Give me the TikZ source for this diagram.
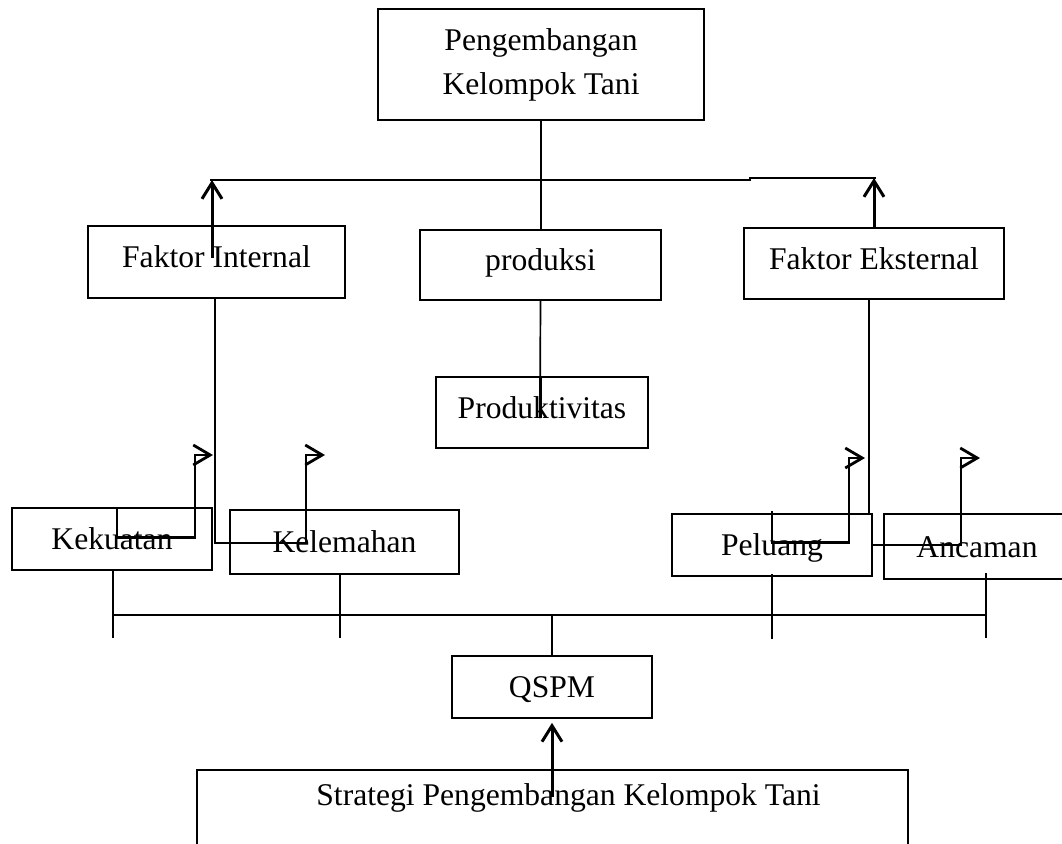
\documentclass[tikz,border=0pt]{standalone}
\usepackage{fontspec}
\setmainfont{Liberation Serif}
\usetikzlibrary{arrows.meta}

\begin{document}
\begin{tikzpicture}[x={(0.5pt,0)},y={(0,-0.5pt)},font=\fontsize{15.8}{22}\selectfont,
  title/.style={draw,line width=0.85pt,align=center,inner sep=0pt},
  box/.style={draw,line width=0.85pt,inner sep=0pt,text height=11pt,text depth=0.5pt},
  upper/.style={box,text depth=5.5pt},
  link/.style={line width=0.85pt},
  arr/.style={line width=1.5pt,-{Straight Barb[length=8pt,width=10pt]}},
  hook/.style={line width=1.4pt,-{Straight Barb[length=8.5pt,width=10pt]}}]
  \useasboundingbox (0,0) rectangle (1062,843);
  \node[title,minimum width=163pt,minimum height=55.5pt] (pkt) at (541,64.5) {Pengembangan\\Kelompok Tani};
  \node[upper,minimum width=128.5pt,minimum height=36pt] (fi) at (216.5,262) {Faktor Internal};
  \node[upper,minimum width=120.5pt,minimum height=35pt] (prod) at (540.5,265) {produksi};
  \node[upper,minimum width=130pt,minimum height=35.5pt] (fe) at (874,263.5) {Faktor Eksternal};
  \node[upper,minimum width=106pt,minimum height=35.5pt] (pv) at (542,412.5) {Produktivitas};
  \node[box,minimum width=100pt,minimum height=31pt] (kek) at (112,539) {Kekuatan};
  \node[box,minimum width=114.5pt,minimum height=32pt] (kel) at (344.5,542) {Kelemahan};
  \node[box,minimum width=100pt,minimum height=31pt] (pel) at (772,545) {Peluang};
  \node[box,minimum width=93pt,minimum height=32.5pt] (anc) at (977,546.5) {Ancaman};
  \node[box,minimum width=100pt,minimum height=31pt] (qspm) at (552,687) {QSPM};
  \node[draw,line width=0.85pt,anchor=north,minimum width=355.5pt,inner sep=0pt,text height=18pt,text depth=50pt] (spkt) at (552.5,769) {\hspace*{16pt}Strategi Pengembangan Kelompok Tani};
  % free ends
  \coordinate (tl) at (210,180);
  \coordinate (tr) at (876,178);
  \coordinate (fiin) at (212,258);
  \coordinate (pvend) at (540,418);
  \coordinate (fiend) at (215,510);
  \coordinate (feend) at (869,514);
  \coordinate (kekhook) at (195,455);
  \coordinate (kelhook) at (306,455);
  \coordinate (pelhook) at (849,458);
  \coordinate (anchook) at (961,458);
  \coordinate (busl) at (113,615);
  \coordinate (busr) at (986,615);
  \coordinate (spin) at (552,797);
  % top part
  \draw[link] (pkt.south) -- (pkt.south |- prod.north);
  \draw[link] (tl) -- (750,180) -- (750,178) -- (tr);
  \draw[arr] (fiin) -- (fiin |- tl);
  \draw[arr] (fe.north) -- (fe.north |- tr);
  \draw[link] (prod.south) -- (pvend);
  \draw[line width=1.5pt] (pvend |- pv.north) -- (pvend);
  % internal side
  \draw[link] (fiend |- fi.south) -- (fiend);
  \draw[hook] ([xshift=2.5pt]kek.north) -- ++(0,30) -| (kekhook) -- ++(18,0);
  \draw[hook] (fiend) -- ++(0,33) -| (kelhook) -- ++(19,0);
  % external side
  \draw[link] (feend |- fe.south) -- (feend);
  \draw[hook] ([yshift=1pt]pel.north) -- ++(0,31) -| (pelhook) -- ++(16,0);
  \draw[hook] ([xshift=1.5pt]feend) -- ++(0,31) -| (anchook) -- ++(19,0);
  % bus to QSPM
  \draw[link] (busl) -- (busr);
  \draw[link] (busl |- kek.south) -- ++(0,67);
  \draw[link] ([xshift=-2.25pt]kel.south) -- ++(0,63);
  \draw[link] ([yshift=1.5pt]pel.south) -- ++(0,65);
  \draw[link] (busr) ++(0,-42) -- ++(0,65);
  \draw[link] (qspm.north) -- (qspm.north |- busl);
  \draw[arr,shorten >=2pt] (spin) -- (qspm.south);
\end{tikzpicture}
\end{document}
